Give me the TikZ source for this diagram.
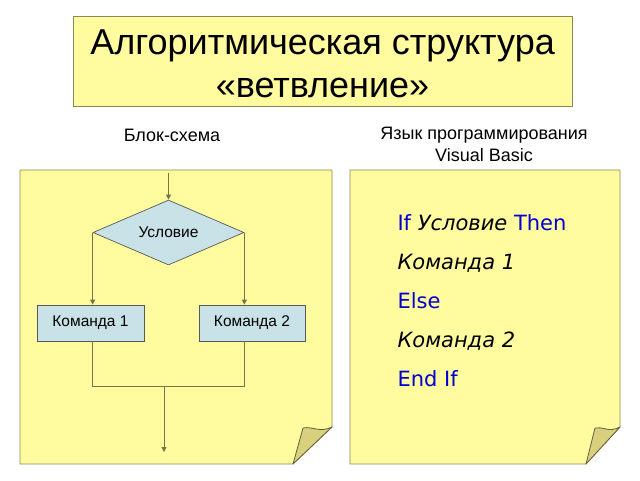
\documentclass[tikz,border=0pt]{standalone}
\usepackage{fontspec}
\setmainfont{Liberation Sans}
\newfontfamily\codefont{DejaVu Sans}
\usepackage{tikz}
\usetikzlibrary{shapes.geometric, arrows.meta, calc}
\usepackage{xcolor}
\definecolor{paper}{HTML}{FFFB9E}
\definecolor{flap}{HTML}{D8D07C}
\definecolor{edge}{HTML}{8A8758}
\definecolor{block}{HTML}{C8E2E8}
\definecolor{wirecol}{HTML}{77744A}
\definecolor{keyword}{HTML}{0000D0}
\newcommand{\vbkw}[1]{\textcolor{keyword}{#1}}

\begin{document}
\begin{tikzpicture}[x=1pt, y=-1pt,
    sheet/.style={draw=edge, fill=paper, line width=0.8pt},
    fold/.style={draw=edge!70!black, fill=flap, line width=0.8pt, line join=round},
    cmd/.style={draw=black!65, fill=block, line width=0.7pt, minimum height=36pt, font=\fontsize{15.5}{18}\selectfont},
    cond/.style={diamond, aspect=2.3, draw=black!65, fill=block, line width=0.7pt, minimum width=151pt, minimum height=65pt, inner sep=0pt, font=\fontsize{15.5}{18}\selectfont},
    wire/.style={draw=wirecol, line width=0.8pt},
    flow/.style={wire, -{Triangle[length=5pt,width=5pt]}},
    code/.style={anchor=base west, font=\codefont\fontsize{21}{24}\selectfont}]
    \useasboundingbox (0,0) rectangle (640,480);
    % Заголовок
    \node[sheet, minimum width=499pt, minimum height=90pt] (title) at (322.5,61) {};
    \node[align=center, font=\fontsize{36}{43}\selectfont] (titletext)
        at ($(title.center)+(0,3)$) {Алгоритмическая структура\\«ветвление»};
    \node[font=\fontsize{18}{20}\selectfont] (lblock) at (172,135) {Блок-схема};
    \node[align=center, font=\fontsize{18}{22}\selectfont] (lcode) at (484,144)
        {Язык программирования\\Visual Basic};
    % Листы
    \draw[sheet] (20,170) -- (332,170) -- (332,427) -- (293,464) -- (20,464) -- cycle;
    \draw[fold] (332,427) .. controls (320,433) and (312,426) .. (303,428) -- (293,464) -- cycle;
    \draw[sheet] (350,170) -- (620,170) -- (620,427) -- (586,464) -- (350,464) -- cycle;
    \draw[fold] (620,427) .. controls (609,433) and (602,426) .. (595,428) -- (586,464) -- cycle;
    % Блок-схема
    \coordinate (start) at (168.5,173);
    \node[cond] (if) at (168.5,232.5) {Условие};
    \node[cmd, minimum width=107pt] (c1) at (90.5,323) {Команда 1};
    \node[cmd, minimum width=106pt] (c2) at (252,323) {Команда 2};
    \coordinate (join) at (164,386);
    \coordinate (end) at (164,452);
    \draw[flow] (start) -- (if.north);
    \draw[flow] (if.west) -- (if.west |- c1.north);
    \draw[flow] (if.east) -- (if.east |- c2.north);
    \draw[wire] (if.west |- c1.south) -- (if.west |- join) -- (if.east |- join) -- (if.east |- c2.south);
    \draw[flow] (join) -- (end);
    % Код
    \foreach \txt [count=\i] in {{\vbkw{If} \textit{Условие} \vbkw{Then}},
        {\textit{Команда 1}}, {\vbkw{Else}}, {\textit{Команда 2}}, {\vbkw{End If}}}
        \node[code] (line\i) at (394,191+39*\i) {\txt};
\end{tikzpicture}
\end{document}
